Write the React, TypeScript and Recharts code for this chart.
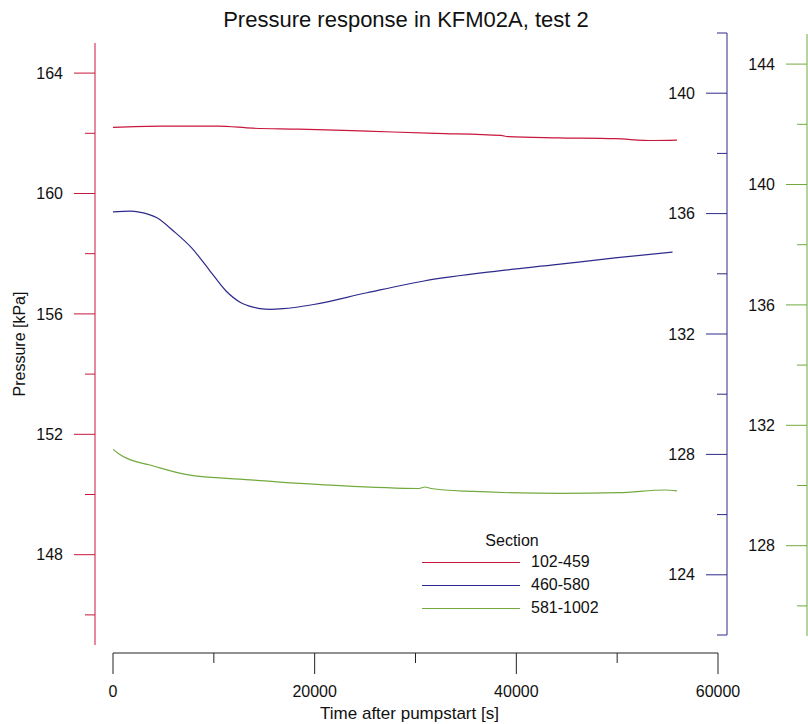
import { LineChart, Line, XAxis, YAxis, Legend } from "recharts";

// section 102-459 (left axis)
const redTime = [0, 4760, 10410, 13850, 18400, 25190, 32030, 38460, 39170, 44130, 49780, 53550, 55930];
const redKpa = [162.2, 162.24, 162.24, 162.17, 162.14, 162.07, 162.0, 161.93, 161.89, 161.85, 161.82, 161.76, 161.77];

// section 460-580 (middle axis)
const blueTime = [0, 1740, 2600, 4360, 6000, 7800, 9500, 11210, 12690, 13800, 14580, 15600, 16860, 18000, 19900, 25190, 30840, 38080, 44130, 49780, 55490];
const blueKpa = [136.06, 136.08, 136.05, 135.86, 135.42, 134.86, 134.15, 133.43, 133.04, 132.9, 132.84, 132.82, 132.84, 132.88, 132.98, 133.37, 133.76, 134.09, 134.31, 134.53, 134.72];

// section 581-1002 (outer axis)
const greenTime = [0, 600, 1390, 3670, 7490, 13980, 21620, 30350, 30940, 31540, 34910, 44430, 50180, 54740, 55930];
const greenKpa = [131.2, 131.05, 130.9, 130.68, 130.35, 130.18, 130.01, 129.9, 129.95, 129.9, 129.81, 129.74, 129.76, 129.85, 129.82];

const timeTicks = [0, 10000, 20000, 30000, 40000, 50000, 60000];
const leftTicks = [146, 148, 150, 152, 154, 156, 158, 160, 162, 164];
const midTicks = [122, 124, 126, 128, 130, 132, 134, 136, 138, 140, 142];
const outerTicks = [126, 128, 130, 132, 134, 136, 138, 140, 142, 144];

const sectionNames = ["102-459", "460-580", "581-1002"];

const RED = "#c8163c";
const BLUE = "#2c2a8a";
const GREEN = "#72aa3e";
const FONT = "'Liberation Sans', Arial, sans-serif";

const toRows = (t: number[], v: number[]) => t.map((time, i) => ({ t: time, p: v[i] }));
const redData = toRows(redTime, redKpa);
const blueData = toRows(blueTime, blueKpa);
const greenData = toRows(greenTime, greenKpa);
const sectionColors = [RED, BLUE, GREEN];

const YTick = (props: any) => {
  const { x, y, payload, color } = props;
  const major = payload.value % 4 === 0;
  return (
    <g>
      <line x1={x - (major ? 21 : 10)} x2={x} y1={y} y2={y} stroke={color} strokeWidth={1} />
      {major && (
        <text x={x - 32} y={y} dy="0.35em" textAnchor="end" fontSize={16} fill="#111" fontFamily={FONT}>
          {payload.value}
        </text>
      )}
    </g>
  );
};

const XTick = (props: any) => {
  const { x, y, payload } = props;
  const major = payload.value % 20000 === 0;
  return (
    <g>
      <line x1={x} x2={x} y1={y} y2={y + (major ? 21 : 10)} stroke="#222" strokeWidth={1} />
      {major && (
        <text x={x} y={y + 38} dy="0.35em" textAnchor="middle" fontSize={16} fill="#111" fontFamily={FONT}>
          {payload.value}
        </text>
      )}
    </g>
  );
};

const SectionLegend = () => (
  <div style={{ position: "relative", width: 220, height: 100, fontSize: 16, color: "#111", fontFamily: FONT }}>
    <div style={{ position: "absolute", left: 62, width: 100, top: 3, textAlign: "center", lineHeight: "20px" }}>Section</div>
    {sectionNames.map((name, i) => (
      <div key={name} style={{ position: "absolute", left: 0, top: 24 + i * 23, width: 220, height: 20 }}>
        <div style={{ position: "absolute", left: 22, top: 10, width: 98, borderTop: `1px solid ${sectionColors[i]}` }} />
        <div style={{ position: "absolute", left: 131, top: 0, lineHeight: "20px" }}>{name}</div>
      </div>
    ))}
  </div>
);

const layer: React.CSSProperties = { position: "absolute", left: 0, top: 0 };

const App = () => {
  return (
    <div style={{ position: "absolute", left: 0, top: 0, width: 808, height: 724, background: "#fff", fontFamily: FONT }}>
      <div style={{ position: "absolute", left: 0, top: 7, width: 812, textAlign: "center", fontSize: 22, lineHeight: "26px", color: "#111" }}>
        Pressure response in KFM02A, test 2
      </div>

      {/* time axis */}
      <div style={layer}>
        <LineChart width={808} height={724} data={redData} margin={{ top: 43, right: 90, bottom: 0, left: 113 }}>
          <XAxis
            dataKey="t"
            type="number"
            domain={[0, 60000]}
            ticks={timeTicks}
            interval={0}
            height={71}
            tickSize={0}
            tickMargin={0}
            tickLine={false}
            axisLine={{ stroke: "#222" }}
            tick={<XTick />}
            label={{ value: "Time after pumpstart [s]", position: "insideBottom", offset: 5, dx: -6, fontSize: 17, fill: "#111" }}
          />
        </LineChart>
      </div>

      {/* 102-459 on left axis */}
      <div style={layer}>
        <LineChart width={808} height={724} data={redData} margin={{ top: 43, right: 90, bottom: 79, left: 0 }}>
          <XAxis dataKey="t" type="number" domain={[0, 60000]} hide height={0} padding={{ left: 18, right: 0 }} />
          <YAxis
            type="number"
            domain={[145, 165]}
            ticks={leftTicks}
            interval={0}
            width={95}
            tickSize={0}
            tickMargin={0}
            tickLine={false}
            axisLine={{ stroke: RED }}
            tick={<YTick color={RED} />}
            label={{ value: "Pressure [kPa]", angle: -90, position: "insideLeft", offset: 19, fontSize: 16, fill: "#111", style: { textAnchor: "middle" } }}
          />
          <Legend
            layout="horizontal"
            verticalAlign="middle"
            align="center"
            wrapperStyle={{ left: 400, top: 528, width: 220 }}
            content={() => <SectionLegend />}
          />
          <Line type="monotone" dataKey="p" stroke={RED} strokeWidth={1.2} dot={false} isAnimationActive={false} />
        </LineChart>
      </div>

      {/* 460-580 on middle axis */}
      <div style={layer}>
        <LineChart width={808} height={724} data={blueData} margin={{ top: 33, right: 0, bottom: 89, left: 113 }}>
          <XAxis dataKey="t" type="number" domain={[0, 60000]} hide height={0} padding={{ left: 0, right: 9 }} />
          <YAxis
            orientation="right"
            type="number"
            domain={[122, 142]}
            ticks={midTicks}
            interval={0}
            width={81}
            tickSize={0}
            tickMargin={0}
            tickLine={false}
            axisLine={{ stroke: BLUE }}
            tick={<YTick color={BLUE} />}
          />
          <Line type="monotone" dataKey="p" stroke={BLUE} strokeWidth={1.2} dot={false} isAnimationActive={false} />
        </LineChart>
      </div>

      {/* 581-1002 on outer axis */}
      <div style={layer}>
        <LineChart width={808} height={724} data={greenData} margin={{ top: 34, right: 0, bottom: 88, left: 113 }}>
          <XAxis dataKey="t" type="number" domain={[0, 60000]} hide height={0} padding={{ left: 0, right: 89 }} />
          <YAxis
            orientation="right"
            type="number"
            domain={[125, 145]}
            ticks={outerTicks}
            interval={0}
            width={1}
            tickSize={0}
            tickMargin={0}
            tickLine={false}
            axisLine={{ stroke: GREEN }}
            tick={<YTick color={GREEN} />}
          />
          <Line type="monotone" dataKey="p" stroke={GREEN} strokeWidth={1.2} dot={false} isAnimationActive={false} />
        </LineChart>
      </div>
    </div>
  );
};

export default App;
